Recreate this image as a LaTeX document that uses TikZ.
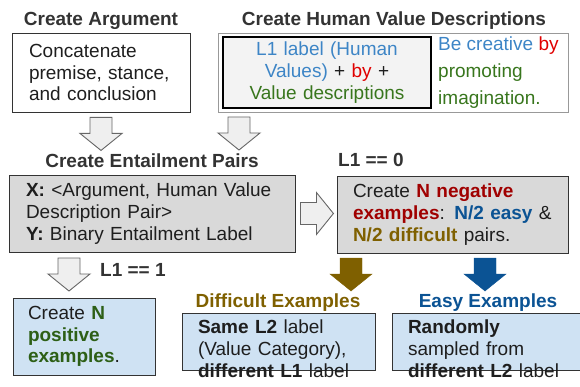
\documentclass[tikz,border=0pt]{standalone}
\usepackage{fontspec}
\setmainfont{Liberation Sans}
\usetikzlibrary{calc}

\definecolor{titlegray}{HTML}{333333}
\definecolor{bodytext}{HTML}{1E1E1E}
\definecolor{boxline}{HTML}{333333}
\definecolor{outerline}{HTML}{999999}
\definecolor{lightfill}{HTML}{F3F3F3}
\definecolor{darkfill}{HTML}{D9D9D9}
\definecolor{bluefill}{HTML}{CFE2F3}
\definecolor{arrowfill}{HTML}{EFEFEF}
\definecolor{arrowline}{HTML}{666666}
\definecolor{valblue}{HTML}{3D85C6}
\definecolor{valgreen}{HTML}{38761D}
\definecolor{byred}{HTML}{E00000}
\definecolor{negred}{HTML}{A00000}
\definecolor{posgreen}{HTML}{2D5F16}
\definecolor{easynavy}{HTML}{0B5394}
\definecolor{diffgold}{HTML}{7F6000}

\newcommand{\bodyfont}{\fontsize{19}{21.7}\selectfont}

\begin{document}
\begin{tikzpicture}[x=1pt, y=-1pt,
    box/.style={draw=boxline, line width=0.9pt, inner ysep=0pt, font=\bodyfont, text=bodytext, align=left},
    title/.style={font=\bodyfont\bfseries, text=titlegray, anchor=base, inner sep=0pt},
    hollowarrow/.style={draw=arrowline, fill=arrowfill, line width=0.9pt},
    blockarrow/.pic={\path[pic actions] (-11,0) -- (11,0) -- (11,16) -- (21,16) -- (0,33) -- (-21,16) -- (-11,16) -- cycle;}]
    %% Background
    \useasboundingbox (0,0) rectangle (580,387);

    %% Create argument
    \node[title] (argtitle) at (101,26) {Create Argument};
    \node[box, text width=144pt, inner xsep=17pt, minimum height=79pt] (argbox) at (101,72.5)
        {Concatenate\\premise, stance,\\and conclusion};

    %% Human value descriptions
    \node[title] (hvtitle) at (394,26) {Create Human Value Descriptions};
    \node[draw=outerline, line width=0.9pt, minimum width=350pt, minimum height=79pt] (hvbox) at (393,72.5) {};
    \node[box, draw=black, line width=1.3pt, fill=lightfill, text width=180pt, inner xsep=14pt,
        align=center, minimum height=71pt] (l1box) at (327,72.5)
        {\textcolor{valblue}{L1 label (Human}\\\textcolor{valblue}{Values)} + \textcolor{byred}{by} +\\\textcolor{valgreen}{Value descriptions}};
    \node[font=\fontsize{19}{27}\selectfont, align=left, anchor=west, inner sep=0pt] (creative) at (438,72.5)
        {\textcolor{valblue}{Be creative} \textcolor{byred}{by}\\\textcolor{valgreen}{promoting}\\\textcolor{valgreen}{imagination.}};

    %% Entailment pairs
    \node[title] (enttitle) at (152,168) {Create Entailment Pairs};
    \node[box, fill=darkfill, text width=252pt, inner xsep=17pt, minimum height=77pt] (entbox) at (152,213.5)
        {\textbf{X:} <Argument, Human Value\\Description Pair>\\\textbf{Y:} Binary Entailment Label};

    %% Negative examples
    \node[title, anchor=base west] (l1zero) at (338,167) {L1 == 0};
    \node[box, fill=darkfill, text width=199pt, inner xsep=16pt, minimum height=77pt] (negbox) at (452.5,214.5)
        {Create \textcolor{negred}{\textbf{N negative}}\\\textcolor{negred}{\textbf{examples}}: \textcolor{easynavy}{\textbf{N/2 easy}} \&\\\textcolor{diffgold}{\textbf{N/2 difficult}} pairs.};

    %% Positive examples
    \node[title, anchor=base west] (l1one) at (100,276) {L1 == 1};
    \node[box, fill=bluefill, text width=112pt, inner xsep=15pt, minimum height=77pt] (posbox) at (84,336.5)
        {Create \textcolor{posgreen}{\textbf{N}}\\\textcolor{posgreen}{\textbf{positive}}\\\textcolor{posgreen}{\textbf{examples}}.};

    %% Difficult and easy examples
    \node[title, text=diffgold] (difftitle) at (278,307) {Difficult Examples};
    \node[box, fill=bluefill, anchor=north, text width=161pt, inner xsep=16pt, inner ysep=6.5pt, text depth=30pt] (diffbox) at (278.5,313)
        {\textbf{Same L2} label\\(Value Category),\\\textbf{different L1} label};
    \node[title, text=easynavy] (easytitle) at (488,307) {Easy Examples};
    \node[box, fill=bluefill, anchor=north, text width=176pt, inner xsep=16pt, inner ysep=6.5pt, text depth=30pt] (easybox) at (496,313)
        {\textbf{Randomly}\\sampled from\\\textbf{different L2} label};

    %% Block arrows
    \pic[hollowarrow] at ([yshift=-5pt]argbox.south) {blockarrow};
    \pic[hollowarrow] at (239,117) {blockarrow};
    \pic[hollowarrow, rotate=90] at ([xshift=5pt]entbox.east) {blockarrow};
    \pic[hollowarrow] at (69,258) {blockarrow};
    \pic[draw=diffgold, fill=diffgold] at (351,258) {blockarrow};
    \pic[draw=easynavy, fill=easynavy] at (485,258) {blockarrow};
\end{tikzpicture}
\end{document}
